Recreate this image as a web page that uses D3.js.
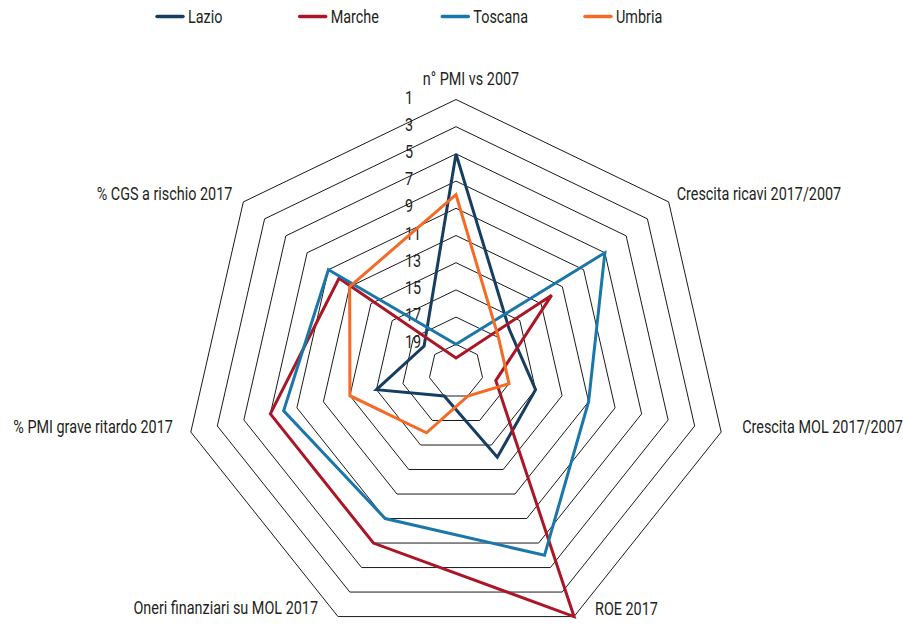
<!DOCTYPE html>
<html>
<head>
<meta charset="utf-8">
<script src="https://cdn.jsdelivr.net/npm/d3@7"></script>
<style>
  html, body { margin: 0; padding: 0; background: #fff; }
  svg { display: block; }
  text { font-family: Roboto, "Liberation Sans", sans-serif; fill: #231f20; }
</style>
</head>
<body>
<svg id="chart" width="903" height="626"></svg>
<script>
const axesLabels = ["n° PMI vs 2007", "Crescita ricavi 2017/2007", "Crescita MOL 2017/2007", "ROE 2017", "Oneri finanziari su MOL 2017", "% PMI grave ritardo 2017", "% CGS a rischio 2017"];
const seriesNames = ["Lazio", "Marche", "Toscana", "Umbria"];
const lazio   = [5, 16, 15, 14, 19, 15, 18];
const marche  = [20, 12, 18, 1, 7, 7, 10];
const toscana = [19, 7, 11, 6, 9, 8, 9];
const umbria  = [8, 17, 17, 19, 16, 13, 11];
const tickValues = [1, 3, 5, 7, 9, 11, 13, 15, 17, 19];
const seriesColors = ["#173d60", "#ab1626", "#1b77aa", "#f36b26"];

const seriesData = [lazio, marche, toscana, umbria];

const FS = 18, SX = 0.8;
const svg = d3.select("#chart");
const cx = 456, cy = 371.5, R = 272;
const r = d3.scaleLinear().domain([21, 1]).range([0, R]);
const angle = d3.scalePoint().domain(d3.range(axesLabels.length)).range([0, 2 * Math.PI * (axesLabels.length - 1) / axesLabels.length]);

const g = svg.append("g").attr("transform", `translate(${cx},${cy})`);

function pt(i, v) {
  const a = angle(i);
  return [r(v) * Math.sin(a), -r(v) * Math.cos(a)];
}
function condensed(sel, xf, yf) {
  sel.attr("x", 0).attr("y", 0)
     .attr("transform", (d, i) => `translate(${xf(d, i)},${yf(d, i)}) scale(${SX},1)`)
     .attr("dominant-baseline", "central")
     .attr("font-size", FS);
}

// grid rings
const line = d3.line().curve(d3.curveLinearClosed);
g.selectAll("path.ring").data(tickValues).join("path")
  .attr("class", "ring")
  .attr("d", v => line(axesLabels.map((_, i) => pt(i, v))))
  .attr("fill", "none")
  .attr("stroke", "#1a1a1a")
  .attr("stroke-width", 1);

// tick labels
g.selectAll("text.tick").data(tickValues).join("text")
  .attr("class", "tick")
  .call(condensed, () => -51, v => -r(v) - 2)
  .text(d => d);

// series
seriesData.forEach((vals, s) => {
  g.append("path")
    .attr("d", line(vals.map((v, i) => pt(i, v))))
    .attr("fill", "none")
    .attr("stroke", seriesColors[s])
    .attr("stroke-width", 3)
    .attr("stroke-linejoin", "miter");
});

// axis labels
const labelLayout = [
  {dx: 15, dy: -21, anchor: "middle"},
  {dx: 8, dy: -8, anchor: "start"},
  {dx: 21, dy: -5, anchor: "start"},
  {dx: 21, dy: -8, anchor: "start"},
  {dx: -20, dy: -9, anchor: "end"},
  {dx: -18, dy: -5, anchor: "end"},
  {dx: -11, dy: -8, anchor: "end"}
];
g.selectAll("text.axis").data(axesLabels).join("text")
  .attr("class", "axis")
  .call(condensed, (d, i) => pt(i, 1)[0] + labelLayout[i].dx, (d, i) => pt(i, 1)[1] + labelLayout[i].dy)
  .attr("text-anchor", (d, i) => labelLayout[i].anchor)
  .text(d => d);

// legend
const legendX = d3.scalePoint().domain(seriesNames).range([157, 585]);
const lg = svg.append("g").selectAll("g").data(seriesNames).join("g")
  .attr("transform", d => `translate(${legendX(d)},16.5)`);
lg.append("line").attr("x1", 0).attr("x2", 26).attr("y1", 0).attr("y2", 0)
  .attr("stroke", (d, i) => seriesColors[i]).attr("stroke-width", 3.5).attr("stroke-linecap", "round");
lg.append("text").call(condensed, () => 31, () => 0).text(d => d);
</script>
</body>
</html>
